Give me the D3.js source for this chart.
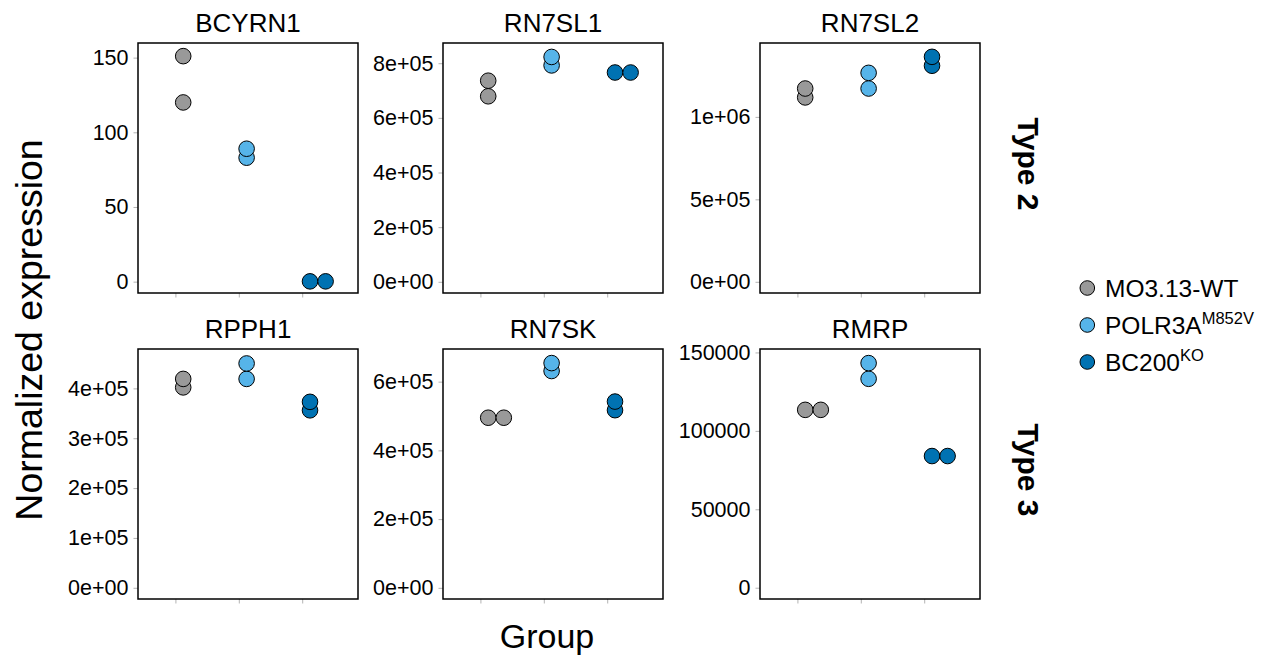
<!DOCTYPE html>
<html>
<head>
<meta charset="utf-8">
<script src="https://cdn.jsdelivr.net/npm/d3@7"></script>
<style>
  html, body { margin: 0; padding: 0; background: #ffffff; }
  svg { display: block; }
  text { font-family: "Liberation Sans", Arial, Helvetica, sans-serif; fill: #000; }
</style>
</head>
<body>
<svg id="chart" width="1277" height="664"></svg>
<script>
// ---------------- data ----------------
const genes = ["BCYRN1", "RN7SL1", "RN7SL2", "RPPH1", "RN7SK", "RMRP"];
const groups = ["MO3.13-WT", "POLR3A", "BC200"];
const legendMain = ["MO3.13-WT", "POLR3A", "BC200"];
const legendSup = ["", "M852V", "KO"];
const rowLabels = ["Type 2", "Type 3"];

// two replicates per gene, one array per group (same order as genes)
const wtValues   = [[151, 120], [736000, 679000], [1172000, 1118000], [419000, 402000], [495000, 495000], [113400, 113400]];
const polrValues = [[89, 83],   [823000, 792000], [1267000, 1172000], [450000, 419000], [654000, 631000], [143200, 133200]];
const bcValues   = [[0.2, 0.2], [766000, 766000], [1364000, 1310000], [373000, 356000], [542000, 517000], [83950, 83950]];

const yTickValues = [
  [0, 50, 100, 150],
  [0, 200000, 400000, 600000, 800000],
  [0, 500000, 1000000],
  [0, 100000, 200000, 300000, 400000],
  [0, 200000, 400000, 600000],
  [0, 50000, 100000, 150000]
];
const yTickLabels = [
  ["0", "50", "100", "150"],
  ["0e+00", "2e+05", "4e+05", "6e+05", "8e+05"],
  ["0e+00", "5e+05", "1e+06"],
  ["0e+00", "1e+05", "2e+05", "3e+05", "4e+05"],
  ["0e+00", "2e+05", "4e+05", "6e+05"],
  ["0", "50000", "100000", "150000"]
];
const yLimits = [
  [-7.6, 159.8],
  [-41000, 874000],
  [-68000, 1448000],
  [-22500, 479000],
  [-32500, 695000],
  [-7200, 152200]
];

const fills = ["#999999", "#56B4E9", "#0072B2"];

// ---------------- layout ----------------
const svg = d3.select("#chart");
svg.append("rect").attr("width", 1277).attr("height", 664).attr("fill", "#fff");

const colLeft = [138, 443, 760];
const rowTop = [43, 349];
const pw = 220, ph = 250;
const r = 7.8;

const x = d3.scaleLinear().domain([0.41, 3.88]).range([0, pw]);
const groupValues = [wtValues, polrValues, bcValues];

genes.forEach((gene, i) => {
  const col = i % 3, row = Math.floor(i / 3);
  const g = svg.append("g").attr("transform", `translate(${colLeft[col]},${rowTop[row]})`);
  const y = d3.scaleLinear().domain(yLimits[i]).range([ph, 0]);

  // y axis
  const yAxis = d3.axisLeft(y)
    .tickValues(yTickValues[i])
    .tickFormat((d, k) => yTickLabels[i][k])
    .tickSize(4.5).tickPadding(5);
  const ya = g.append("g").call(yAxis);
  ya.select(".domain").remove();
  ya.selectAll(".tick line").attr("stroke", "#b3b3b3").attr("stroke-width", 1);
  ya.selectAll(".tick text").attr("font-size", 21.5).attr("fill", "#1a1a1a")
    .style("font-family", '"Liberation Sans", Arial, sans-serif');

  // x axis (ticks only)
  const xAxis = d3.axisBottom(x).tickValues([1, 2, 3]).tickFormat("").tickSize(4.5);
  const xa = g.append("g").attr("transform", `translate(0,${ph})`).call(xAxis);
  xa.select(".domain").remove();
  xa.selectAll(".tick line").attr("stroke", "#b3b3b3").attr("stroke-width", 1);

  // dots (dotplot-style: equal values stack to the right)
  const pts = [];
  groupValues.forEach((gv, gi) => {
    const vals = gv[i].slice().sort((a, b) => a - b);
    const stacked = vals[0] === vals[1];
    vals.forEach((v, k) => {
      pts.push({ gi, v, k: stacked ? k : 0 });
    });
  });
  g.selectAll("circle.dot").data(pts).join("circle")
    .attr("class", "dot")
    .attr("cx", d => x(d.gi + 1) + r * (1 + 2 * d.k))
    .attr("cy", d => y(d.v))
    .attr("r", r)
    .attr("fill", d => fills[d.gi])
    .attr("stroke", "#000")
    .attr("stroke-width", 1);

  // panel border
  g.append("rect").attr("x", 0).attr("y", 0).attr("width", pw).attr("height", ph)
    .attr("fill", "none").attr("stroke", "#000").attr("stroke-width", 1.5);

  // strip title
  g.append("text").attr("x", pw / 2).attr("y", -11.3).attr("text-anchor", "middle")
    .attr("font-size", 26).text(gene);
});

// row labels (rotated, bold)
rowLabels.forEach((lab, ri) => {
  const cy = rowTop[ri] + ph / 2 - 4;
  svg.append("text")
    .attr("transform", `translate(1018,${cy}) rotate(90)`)
    .attr("text-anchor", "middle").attr("font-size", 30).attr("font-weight", "bold")
    .text(lab);
});

// axis titles
svg.append("text").attr("x", 547).attr("y", 648).attr("text-anchor", "middle")
  .attr("font-size", 34).text("Group");
svg.append("text")
  .attr("transform", "translate(42,330) rotate(-90)")
  .attr("text-anchor", "middle").attr("font-size", 37.5).text("Normalized expression");

// legend
const legY = [288, 325, 362];
legendMain.forEach((lab, k) => {
  svg.append("circle").attr("cx", 1087.3).attr("cy", legY[k]).attr("r", 7.3)
    .attr("fill", fills[k]).attr("stroke", "#000").attr("stroke-width", 1);
  const t = svg.append("text").attr("x", 1105).attr("y", legY[k] + 9)
    .attr("font-size", 24.5).text(lab);
  if (legendSup[k]) {
    t.append("tspan").attr("font-size", 16.5).attr("dy", -10).text(legendSup[k]);
  }
});
</script>
</body>
</html>
